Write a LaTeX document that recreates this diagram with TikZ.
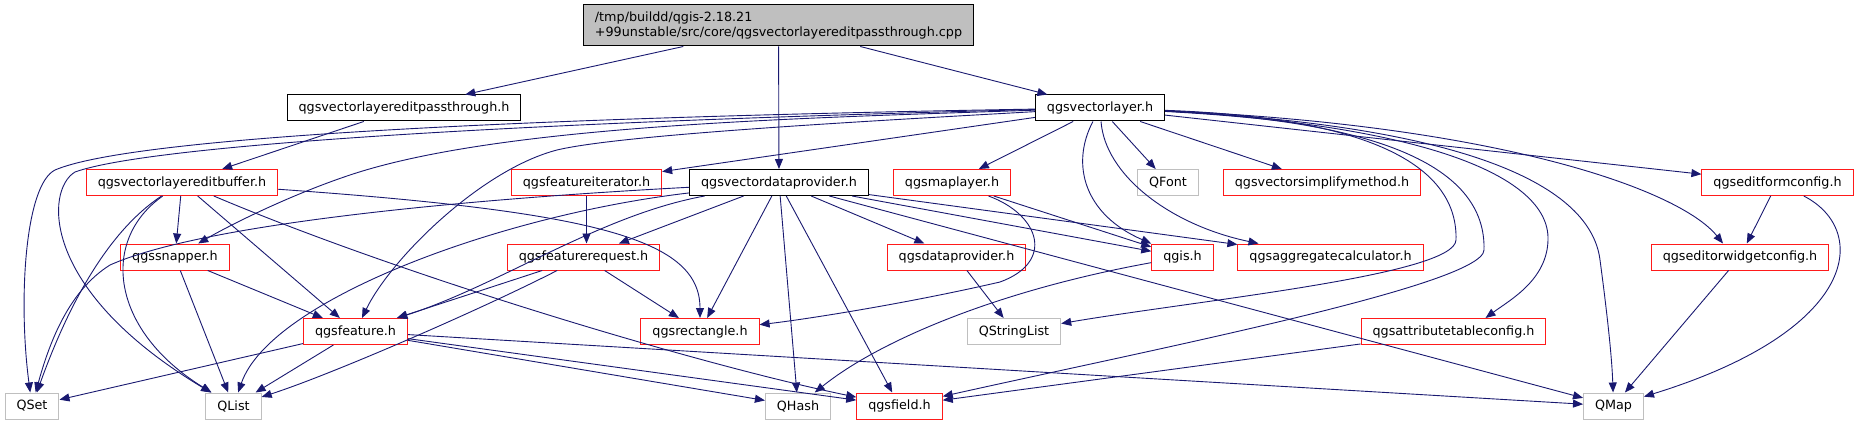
\documentclass[tikz,border=0pt]{standalone}
\usepackage{fontspec}
\setmainfont{DejaVu Sans}
\usetikzlibrary{arrows.meta}
\definecolor{edgeblue}{HTML}{191970}
\definecolor{boxgray}{HTML}{BFBFBF}
\definecolor{boxred}{HTML}{FF1A1A}

\begin{document}
\begin{tikzpicture}[x=1pt,y=-1pt,
    file/.style={draw=black,fill=white,line width=1pt,inner xsep=11.5pt,inner ysep=2pt,minimum height=26pt,font=\fontsize{12.75}{15}\selectfont},
    redfile/.style={file,draw=boxred},
    sysfile/.style={file,draw=boxgray},
    inc/.style={draw=edgeblue,line width=0.9pt,-{Triangle[length=10pt,width=8pt]}}]
    \useasboundingbox (0,0) rectangle (1859,425);
    % Top file
    \node[file,fill=boxgray,align=left,minimum height=41pt,inner xsep=11pt] (root) at (778.5,25.5) {/tmp/buildd/qgis-2.18.21\\+99unstable/src/core/qgsvectorlayereditpassthrough.cpp};
    % First level
    \node[file] (pass) at (404,108) {qgsvectorlayereditpassthrough.h};
    \node[file] (vl) at (1100,108) {qgsvectorlayer.h};
    % Second level
    \node[redfile] (ebuf) at (182,182.5) {qgsvectorlayereditbuffer.h};
    \node[redfile] (fiter) at (586.5,182.5) {qgsfeatureiterator.h};
    \node[file] (vdp) at (779,182.5) {qgsvectordataprovider.h};
    \node[redfile] (mlay) at (952,182.5) {qgsmaplayer.h};
    \node[sysfile] (qfont) at (1168,182.5) {QFont};
    \node[redfile] (simp) at (1322,182.5) {qgsvectorsimplifymethod.h};
    \node[redfile] (efc) at (1777.5,182.5) {qgseditformconfig.h};
    % Third level
    \node[redfile] (snap) at (175,257) {qgssnapper.h};
    \node[redfile] (freq) at (583.5,257) {qgsfeaturerequest.h};
    \node[redfile] (dprov) at (956.5,257) {qgsdataprovider.h};
    \node[redfile] (qgis) at (1182.5,257) {qgis.h};
    \node[redfile] (aggr) at (1330.5,257) {qgsaggregatecalculator.h};
    \node[redfile] (ewc) at (1740,257) {qgseditorwidgetconfig.h};
    % Fourth level
    \node[redfile] (feat) at (355.5,331.5) {qgsfeature.h};
    \node[redfile] (rect) at (700,331.5) {qgsrectangle.h};
    \node[sysfile] (qsl) at (1014,331.5) {QStringList};
    \node[redfile] (atc) at (1453.5,331.5) {qgsattributetableconfig.h};
    % Bottom level
    \node[sysfile] (qset) at (32,406) {QSet};
    \node[sysfile] (qlist) at (233.5,406) {QList};
    \node[sysfile] (qhash) at (798,406) {QHash};
    \node[redfile] (field) at (899.5,406) {qgsfield.h};
    \node[sysfile] (qmap) at (1613.5,406) {QMap};

    % Includes of the top file
    \draw[inc] (root) -- (pass);
    \draw[inc] (root) -- (vl);
    \draw[inc] (root) -- (vdp);
    \draw[inc] (pass) -- (ebuf);
    % qgsvectorlayer.h
    \draw[inc] (vl) -- (fiter);
    \draw[inc] (vl) -- (mlay);
    \draw[inc] (vl) -- (qfont);
    \draw[inc] (vl) -- (simp);
    \draw[inc] (vl) -- (efc);
    \draw[inc] (vl) .. controls (500,118) and (130,138) .. (55,170) .. controls (25,185) and (18,300) .. (qset);
    \draw[inc] (vl) .. controls (520,122) and (150,145) .. (75,172) .. controls (45,190) and (40,290) .. (qlist);
    \draw[inc] (vl) .. controls (800,118) and (500,125) .. (350,175) .. controls (290,195) and (230,225) .. (snap);
    \draw[inc] (vl) .. controls (850,122) and (620,135) .. (557,150) .. controls (480,170) and (390,260) .. (feat);
    \draw[inc] (vl) .. controls (1070,165) and (1085,215) .. (qgis);
    \draw[inc] (vl) .. controls (1105,175) and (1170,225) .. ([xshift=-72pt]aggr.north);
    \draw[inc] (vl) .. controls (1380,118) and (1458,170) .. (1456,240) .. controls (1455,275) and (1200,300) .. (qsl);
    \draw[inc] (vl) .. controls (1400,122) and (1486,175) .. (1484,250) .. controls (1483,285) and (1150,350) .. (field);
    \draw[inc] (vl) .. controls (1420,125) and (1550,175) .. (1548,240) .. controls (1547,280) and (1510,300) .. ([xshift=32pt]atc.north);
    \draw[inc] (vl) .. controls (1450,125) and (1590,180) .. (1600,260) .. controls (1608,320) and (1612,360) .. (qmap);
    \draw[inc] (vl) .. controls (1500,125) and (1680,190) .. ([xshift=-17pt]ewc.north);
    % qgsvectorlayereditbuffer.h
    \draw[inc] (ebuf) .. controls (110,230) and (70,300) .. (qset);
    \draw[inc] (ebuf) .. controls (100,240) and (110,330) .. (qlist);
    \draw[inc] (ebuf) -- (snap);
    \draw[inc] (ebuf) -- (feat);
    \draw[inc] (ebuf) .. controls (400,275) and (700,365) .. (field);
    \draw[inc] (ebuf) .. controls (600,212) and (700,240) .. (rect);
    \draw[inc] (snap) -- (feat);
    \draw[inc] (snap) -- (qlist);
    \draw[inc] (fiter) -- (fiter |- freq.north);
    \draw[inc] (freq) -- (feat);
    \draw[inc] (freq) -- (rect);
    \draw[inc] (freq) .. controls (480,310) and (330,375) .. (qlist);
    % qgsvectordataprovider.h
    \draw[inc] (vdp) -- (freq);
    \draw[inc] (vdp) .. controls (600,215) and (500,285) .. (feat);
    \draw[inc] (vdp) .. controls (500,215) and (270,300) .. (qlist);
    \draw[inc] (vdp) .. controls (450,200) and (200,225) .. (110,265) .. controls (70,290) and (50,340) .. (qset);
    \draw[inc] (vdp) -- (rect);
    \draw[inc] (vdp) -- (qhash);
    \draw[inc] (vdp) -- (field);
    \draw[inc] (vdp) -- (dprov);
    \draw[inc] (vdp) -- (qgis);
    \draw[inc] (vdp) -- (aggr);
    \draw[inc] (vdp) -- (qmap);
    \draw[inc] (mlay) -- (qgis);
    \draw[inc] (mlay) .. controls (1040,215) and (1055,262) .. (1000,282) .. controls (900,305) and (800,320) .. (rect);
    \draw[inc] (dprov) -- (qsl);
    \draw[inc] (qgis) .. controls (1000,290) and (880,340) .. (qhash);
    % qgsfeature.h
    \draw[inc] (feat) -- (qset);
    \draw[inc] (feat) -- (qlist);
    \draw[inc] (feat) -- (qhash);
    \draw[inc] (feat) -- (field);
    \draw[inc] (feat) -- (qmap);
    \draw[inc] (atc) -- (field);
    \draw[inc] (efc) -- (ewc);
    \draw[inc] (efc) .. controls (1870,230) and (1860,330) .. (qmap);
    \draw[inc] (ewc) -- (qmap);
\end{tikzpicture}
\end{document}
